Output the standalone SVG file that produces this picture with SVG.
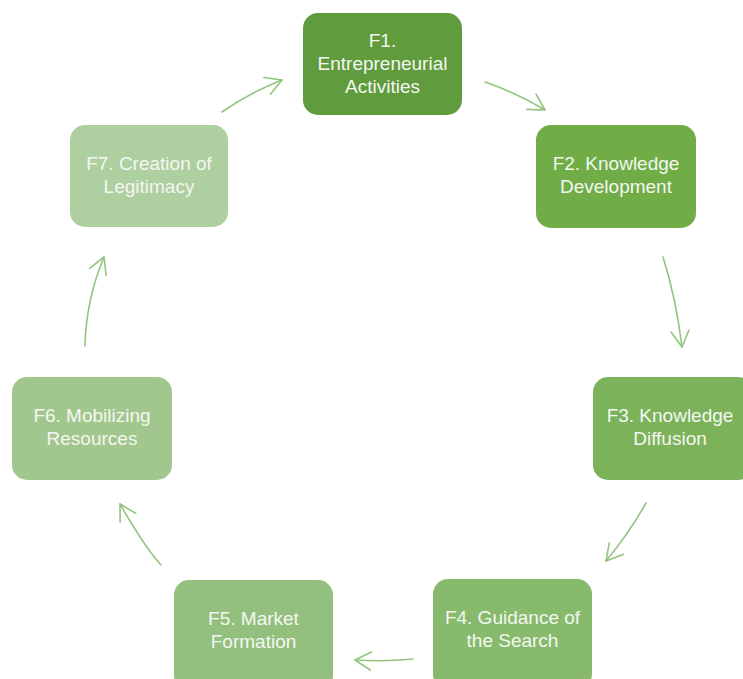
<svg xmlns="http://www.w3.org/2000/svg" width="743" height="679" viewBox="0 0 743 679">
<style>
.lbl{font-family:"Liberation Sans",Arial,sans-serif;font-size:19px;fill:#f4f7f1;text-anchor:middle}
.arr{fill:none;stroke:#93c47d;stroke-width:1.6;stroke-linecap:round;marker-end:url(#ah)}
</style>
<defs>
<marker id="ah" markerUnits="userSpaceOnUse" markerWidth="24" markerHeight="24" viewBox="-20 -12 24 24" refX="0" refY="0" orient="auto">
<path d="M-16,-9 L0,0 L-16,9" fill="none" stroke="#93c47d" stroke-width="1.6" stroke-linecap="round" stroke-linejoin="round"/>
</marker>
</defs>
<rect width="743" height="679" fill="#ffffff"/>
<g id="connectors">
<path class="arr" d="M485,82 Q517,93 545,110"/>
<path class="arr" d="M663,257 Q676,298 682,347"/>
<path class="arr" d="M646,503 Q630,532 606,561"/>
<path class="arr" d="M413,659 Q385,662 355,660"/>
<path class="arr" d="M161,565 Q144,546 120,504"/>
<path class="arr" d="M85,346 Q86,300 104,257"/>
<path class="arr" d="M222,112 Q249,93 282,80"/>
</g>
<g id="F1">
<rect x="303" y="13" width="159" height="102" rx="15" fill="#609c3e"/>
<text class="lbl" x="382.5" y="47">F1.</text>
<text class="lbl" x="382.5" y="70">Entrepreneurial</text>
<text class="lbl" x="382.5" y="93">Activities</text>
</g>
<g id="F2">
<rect x="536" y="125" width="160" height="103" rx="15" fill="#70ad47"/>
<text class="lbl" x="616" y="170">F2. Knowledge</text>
<text class="lbl" x="616" y="193">Development</text>
</g>
<g id="F3">
<rect x="593" y="377" width="160" height="103" rx="15" fill="#7cb35a"/>
<text class="lbl" x="670" y="422">F3. Knowledge</text>
<text class="lbl" x="670" y="445">Diffusion</text>
</g>
<g id="F4">
<rect x="433" y="579" width="159" height="110" rx="15" fill="#87ba6d"/>
<text class="lbl" x="512.5" y="624">F4. Guidance of</text>
<text class="lbl" x="512.5" y="647">the Search</text>
</g>
<g id="F5">
<rect x="174" y="580" width="159" height="110" rx="15" fill="#93c07e"/>
<text class="lbl" x="253.5" y="625">F5. Market</text>
<text class="lbl" x="253.5" y="648">Formation</text>
</g>
<g id="F6">
<rect x="12" y="377" width="160" height="103" rx="15" fill="#a1c78f"/>
<text class="lbl" x="92" y="422">F6. Mobilizing</text>
<text class="lbl" x="92" y="445">Resources</text>
</g>
<g id="F7">
<rect x="70" y="125" width="158" height="102" rx="15" fill="#aecfa0"/>
<text class="lbl" x="149" y="170">F7. Creation of</text>
<text class="lbl" x="149" y="193">Legitimacy</text>
</g>
</svg>
